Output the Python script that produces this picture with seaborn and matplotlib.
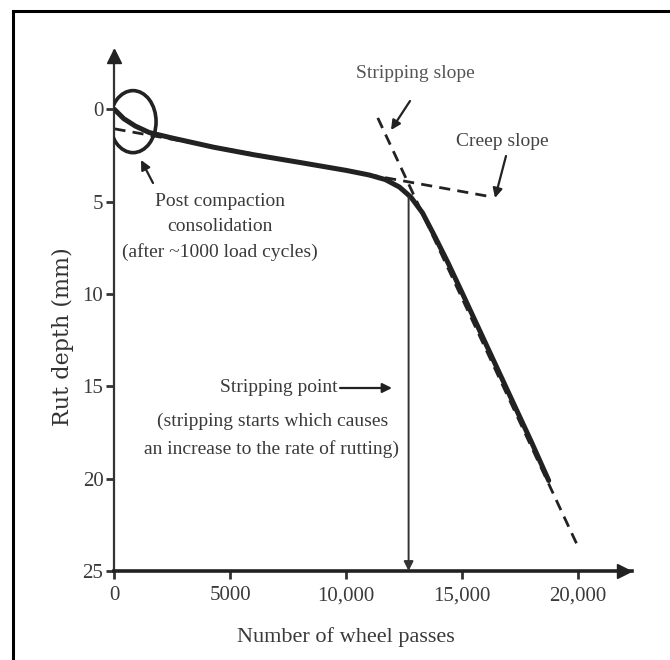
import numpy as np
import pandas as pd
import matplotlib
matplotlib.use("Agg")
import matplotlib.pyplot as plt
from matplotlib.patches import Ellipse, Rectangle
import seaborn as sns

# Data
passes = [0, 400, 900, 1500, 2500, 4300, 6000, 8000, 10000, 11000, 11700,
          12300, 12800, 13300, 13800, 14400, 15000, 16000, 17000, 18000, 18750]
rut_depth = [0.0, 0.5, 0.9, 1.25, 1.55, 2.05, 2.45, 2.87, 3.3, 3.55, 3.8,
             4.2, 4.75, 5.6, 6.8, 8.3, 9.9, 12.6, 15.3, 18.0, 20.1]

creep_x = [0, 16350]
creep_y = [1.05, 4.75]
strip_x = [11370, 20060]
strip_y = [0.46, 23.8]

stripping_point = 12700
x_ticks = [0, 5000, 10000, 15000, 20000]
x_labels = ["0", "5000", "10,000", "15,000", "20,000"]
y_ticks = [0, 5, 10, 15, 20, 25]

df = pd.DataFrame({"passes": passes, "rut": rut_depth})

sns.set_theme(style="white")
plt.rcParams["font.family"] = ["Liberation Serif", "DejaVu Serif"]

W, H = 670, 660
fig = plt.figure(figsize=(W / 100, H / 100), dpi=100)
ax = fig.add_axes([114.5 / W, (H - 571) / H, 517.1 / W, 519.7 / H])


def px(x, y):
    # pixel position (from top-left) -> figure fraction
    return (x / W, 1 - y / H)


ink = "#222222"
txt = "#3a3a3a"

# slope construction lines
sns.lineplot(x=creep_x, y=creep_y, ax=ax, color=ink, lw=2.0,
             linestyle=(0, (4, 2.6)), zorder=2)
sns.lineplot(x=strip_x, y=strip_y, ax=ax, color=ink, lw=2.0,
             linestyle=(0, (4, 2.6)), zorder=2)

# main rutting curve
sns.lineplot(data=df, x="passes", y="rut", ax=ax, color=ink, lw=3.6,
             sort=False, zorder=3)

ax.set_xlim(0, 22330)
ax.set_ylim(25, -3.15)

ax.set_xticks(x_ticks)
ax.set_xticklabels(x_labels)
ax.set_yticks(y_ticks)
ax.tick_params(axis="both", direction="out", length=6, width=2, color="#333333",
               labelsize=15, labelcolor=txt, pad=2, left=True, bottom=True)
ax.tick_params(axis="x", pad=5)
ax.set_xlabel("")
ax.set_ylabel("")

for side in ["top", "right"]:
    ax.spines[side].set_visible(False)
ax.spines["left"].set_linewidth(1.6)
ax.spines["left"].set_color("#333333")
ax.spines["bottom"].set_linewidth(2.6)
ax.spines["bottom"].set_color(ink)

# axis arrow heads
ax.plot(0, 0.99, marker="^", color=ink, markersize=10, transform=ax.transAxes,
        clip_on=False, zorder=5)
ax.plot(0.985, 0, marker=">", color=ink, markersize=10, transform=ax.transAxes,
        clip_on=False, zorder=5)

# circle round the post-compaction zone
ax.add_patch(Ellipse((800, 0.66), 1990, 3.36, fill=False, lw=2.6,
                     edgecolor=ink, zorder=4))

# stripping point vertical arrow
ax.annotate("", xy=(stripping_point, 25), xytext=(stripping_point, 4.75),
            arrowprops=dict(arrowstyle="-|>", lw=1.4, color="#333333",
                            mutation_scale=14, shrinkA=0, shrinkB=0))

# annotations
arrow_kw = dict(arrowstyle="-|>", lw=1.6, color=ink, mutation_scale=14,
                shrinkA=0, shrinkB=0)

lines = ["Post compaction", "consolidation", "(after ~1000 load cycles)"]
for i, s in enumerate(lines):
    fig.text(*px(219.5, 201 + 25.5 * i), s, ha="center", va="center",
             fontsize=14, color=txt)
ax.annotate("", xy=px(141, 160), xytext=px(153, 183),
            xycoords="figure fraction", textcoords="figure fraction",
            arrowprops=arrow_kw)

fig.text(*px(338, 388), "Stripping point", ha="right", va="center",
         fontsize=14, color=txt)
ax.annotate("", xy=px(392, 388), xytext=px(340, 388),
            xycoords="figure fraction", textcoords="figure fraction",
            arrowprops=arrow_kw)
fig.text(*px(273, 421), "(stripping starts which causes", ha="center",
         va="center", fontsize=14, color=txt)
fig.text(*px(272, 449), "an increase to the rate of rutting)", ha="center",
         va="center", fontsize=14, color=txt)

fig.text(*px(415, 73), "Stripping slope", ha="center", va="center",
         fontsize=14, color="#555555")
ax.annotate("", xy=px(391, 130), xytext=px(410, 101),
            xycoords="figure fraction", textcoords="figure fraction",
            arrowprops=arrow_kw)

fig.text(*px(502, 142), "Creep slope", ha="center", va="center",
         fontsize=14, color="#444444")
ax.annotate("", xy=px(495, 198), xytext=px(506, 156),
            xycoords="figure fraction", textcoords="figure fraction",
            arrowprops=arrow_kw)

# axis titles
fig.text(*px(346, 637), "Number of wheel passes", ha="center", va="center",
         fontsize=16, color=txt)
fig.text(*px(63, 337), "Rut depth (mm)", ha="center", va="center",
         rotation=90, fontsize=16, color="#333333", family="DejaVu Serif")

# outer frame
fig.add_artist(Rectangle((13 / W, -0.05), 1.0, (H - 11) / H + 0.05,
                         transform=fig.transFigure, fill=False, lw=2.2,
                         edgecolor="black", clip_on=False))

fig.savefig("out.png", dpi=100)
